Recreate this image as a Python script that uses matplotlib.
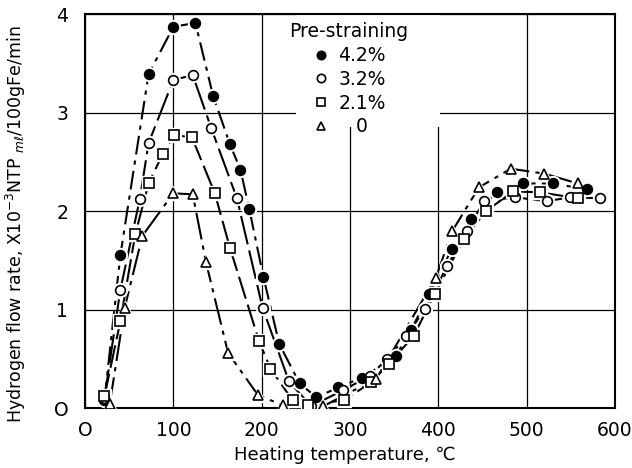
import numpy as np
import matplotlib
matplotlib.use('Agg')
from matplotlib import pyplot as plt
from matplotlib.patches import Rectangle

# pre-strain 4.2 %
t42 = [22, 40, 72, 100, 125, 145, 164, 176, 186, 202, 220, 243, 262, 287, 314, 352, 369, 390, 415, 437, 466, 496, 530, 568]
h42 = [0.08, 1.55, 3.39, 3.87, 3.91, 3.17, 2.68, 2.42, 2.02, 1.33, 0.65, 0.25, 0.11, 0.21, 0.31, 0.53, 0.79, 1.16, 1.61, 1.92, 2.19, 2.28, 2.28, 2.22]
# pre-strain 3.2 %
t32 = [22, 40, 62, 72, 100, 122, 143, 172, 201, 231, 256, 292, 323, 342, 364, 385, 410, 432, 452, 487, 523, 549, 583]
h32 = [0.1, 1.2, 2.12, 2.69, 3.33, 3.38, 2.84, 2.13, 1.02, 0.27, 0.02, 0.18, 0.33, 0.5, 0.73, 1.01, 1.44, 1.8, 2.1, 2.14, 2.1, 2.14, 2.13]
# pre-strain 2.1 %
t21 = [22, 40, 57, 72, 88, 101, 121, 147, 164, 197, 210, 235, 253, 293, 324, 344, 372, 396, 429, 454, 485, 515, 558]
h21 = [0.12, 0.88, 1.77, 2.28, 2.58, 2.77, 2.75, 2.18, 1.63, 0.68, 0.4, 0.08, 0.03, 0.08, 0.26, 0.45, 0.73, 1.16, 1.72, 2.0, 2.2, 2.19, 2.13]
# no pre-strain
t0 = [28, 45, 65, 100, 122, 137, 162, 196, 224, 270, 330, 397, 416, 446, 482, 520, 558]
h0 = [0.04, 1.02, 1.75, 2.18, 2.17, 1.48, 0.56, 0.13, 0.03, 0.02, 0.3, 1.32, 1.8, 2.24, 2.43, 2.38, 2.28]

xticks = [0, 100, 200, 300, 400, 500, 600]
xlabels = ['O', '100', '200', '300', '400', '500', '600']
yticks = [0, 1, 2, 3, 4]
ylabels = ['O', '1', '2', '3', '4']

fig = plt.figure(figsize=(6.32, 4.68), dpi=100)
ax = fig.add_axes([0.1345, 0.128, 0.8385, 0.842])

series = [
    (t42, h42, 'o', 'black', (9, 3, 2, 3), '4.2%'),
    (t32, h32, 'o', 'white', (14, 3), '3.2%'),
    (t21, h21, 's', 'white', (11, 3), '2.1%'),
    (t0, h0, '^', 'white', (13, 3, 2, 3), '   0'),
]
for t, h, m, fc, dash, lab in series:
    ax.plot(t, h, color='black', lw=1.5, dashes=dash, zorder=2)
    # white halo so the lines stop short of the markers
    ax.plot(t, h, ls='none', marker=m, ms=10, mfc='white', mec='white', zorder=3)
    ax.plot(t, h, ls='none', marker=m, ms=7 if m != 's' else 6.5, mfc=fc,
            mec='black', mew=1.2, zorder=4, label=lab)

ax.set_xlim(0, 600)
ax.set_ylim(0, 4)
ax.set_xticks(xticks)
ax.set_xticklabels(xlabels)
ax.set_yticks(yticks)
ax.set_yticklabels(ylabels)
ax.tick_params(length=0, labelsize=13.5)
ax.tick_params(axis='x', pad=9)
ax.tick_params(axis='y', pad=12)
ax.grid(True, color='black', lw=0.9)
ax.set_axisbelow(True)
for s in ax.spines.values():
    s.set_linewidth(1.5)

# blank area behind the legend (grid lines stop there)
ax.add_patch(Rectangle((0.398, 0.713), 0.272, 0.287, transform=ax.transAxes,
                       facecolor='white', edgecolor='none', zorder=1))

ax.set_xlabel('Heating temperature, \u2103', fontsize=13)
ax.xaxis.set_label_coords(0.49, -0.095)
ax.set_ylabel(r'Hydrogen flow rate, X10$^{-3}$NTP $_{m\ell}$/100gFe/min', fontsize=12.5)
ax.yaxis.set_label_coords(-0.108, 0.467)

leg = ax.legend(loc='upper left', bbox_to_anchor=(0.37, 1.0), title='Pre-straining',
                frameon=False, fontsize=13.5, title_fontsize=13.5, handlelength=0.9,
                handletextpad=0.5, labelspacing=0.25, borderpad=0.3,
                borderaxespad=0.15)
for hnd in leg.legend_handles:
    hnd.set_markersize(6)
leg.set_zorder(5)

fig.savefig('out.png', dpi=100)
